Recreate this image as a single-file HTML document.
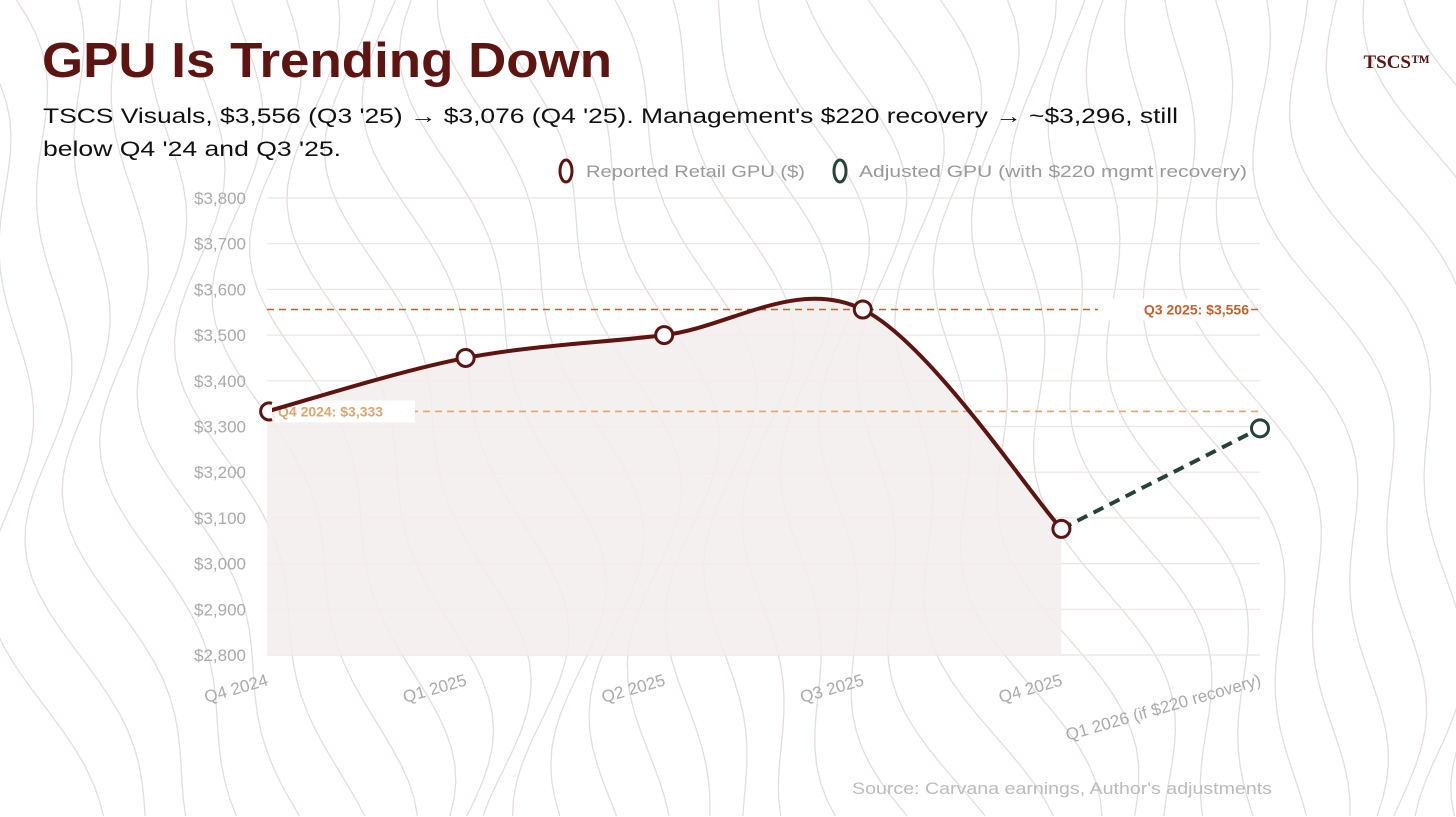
<!DOCTYPE html>
<html><head><meta charset="utf-8">
<style>
body{margin:0;width:1456px;height:817px;background:#fff;overflow:hidden;font-family:"Liberation Sans",sans-serif;}
svg{position:absolute;left:0;top:0}
</style></head>
<body>
<svg id="bg" width="1456" height="817"></svg>
<svg id="chart" width="1456" height="817">
  <text x="42" y="77" font-size="49" font-weight="bold" fill="#5e1410" textLength="570" lengthAdjust="spacingAndGlyphs">GPU Is Trending Down</text>
  <text x="1430" y="68" font-size="19" font-weight="bold" fill="#5e1410" text-anchor="end" font-family="Liberation Serif,serif">TSCS™</text>
  <text x="43" y="123" font-size="21" fill="#111" textLength="1135" lengthAdjust="spacingAndGlyphs">TSCS Visuals, $3,556 (Q3 '25) → $3,076 (Q4 '25). Management's $220 recovery → ~$3,296, still</text>
  <text x="43" y="156" font-size="21" fill="#111" textLength="298" lengthAdjust="spacingAndGlyphs">below Q4 '24 and Q3 '25.</text>
  <g>
    <ellipse cx="566" cy="171" rx="6" ry="11" fill="#fff" stroke="#5e1410" stroke-width="3"/>
    <text x="586" y="177" font-size="17" fill="#999" textLength="219" lengthAdjust="spacingAndGlyphs">Reported Retail GPU ($)</text>
    <ellipse cx="840" cy="171" rx="6" ry="11" fill="#fff" stroke="#24443a" stroke-width="3"/>
    <text x="859" y="177" font-size="17" fill="#999" textLength="388" lengthAdjust="spacingAndGlyphs">Adjusted GPU (with $220 mgmt recovery)</text>
  </g>
  <g id="grid"></g><g id="area"></g><g id="refs"></g><g id="lines"></g><g id="pts"></g><g id="xl"></g>
  <text x="1272" y="794" font-size="17" fill="#bbb" text-anchor="end" textLength="420" lengthAdjust="spacingAndGlyphs">Source: Carvana earnings, Author's adjustments</text>
</svg>
<script>
const categories=["Q4 2024","Q1 2025","Q2 2025","Q3 2025","Q4 2025","Q1 2026 (if $220 recovery)"];
const reported=[3333,3450,3500,3556,3076];
const adjusted=[3076,3296];
const yTicks=[2800,2900,3000,3100,3200,3300,3400,3500,3600,3700,3800];
const refValues=[3556,3333];
const refLabels=["Q3 2025: $3,556","Q4 2024: $3,333"];

const NS="http://www.w3.org/2000/svg";
function mk(t,a,p){const e=document.createElementNS(NS,t);for(const k in a)e.setAttribute(k,a[k]);p.appendChild(e);return e;}
const x0=267,x1=1260,yMin=2800,yMax=3800,yT=198,yB=655;
const X=i=>x0+i*(x1-x0)/(categories.length-1);
const Y=v=>yB-(v-yMin)/(yMax-yMin)*(yB-yT);

const bg=document.getElementById('bg');
for(let k=0;k<34;k++){
  const bx=-60+k*46;let d="";
  for(let y=0;y<=817;y+=17){
    const xx=bx+38*Math.sin(y/130+k*0.35)+22*Math.sin(y/55+k*0.9)+0.18*y;
    d+=(y?"L":"M")+xx.toFixed(1)+","+y;
  }
  const p=mk('path',{d:d,fill:"none",stroke:"#e6dcdc","stroke-width":1.3},bg);
  
  
}

const grid=document.getElementById('grid');
yTicks.forEach(v=>{
  const l=mk('line',{x1:x0,x2:x1,y1:Y(v),y2:Y(v),stroke:"#eee2e2","stroke-width":1.2},grid);
  
  
  const t=mk('text',{x:246,y:Y(v)+6,"font-size":17,fill:"#aaa","text-anchor":"end"},grid);
  t.textContent="$"+v.toLocaleString('en-US');
  
  
});

function cr(pts){
  let d="M"+pts[0][0]+","+pts[0][1];
  for(let i=0;i<pts.length-1;i++){
    const p0=pts[i-1]||pts[i],p1=pts[i],p2=pts[i+1],p3=pts[i+2]||p2;
    const c1=[p1[0]+(p2[0]-p0[0])/6,p1[1]+(p2[1]-p0[1])/6];
    const c2=[p2[0]-(p3[0]-p1[0])/6,p2[1]-(p3[1]-p1[1])/6];
    d+=`C${c1[0]},${c1[1]} ${c2[0]},${c2[1]} ${p2[0]},${p2[1]}`;
  }
  return d;
}
const rp=reported.map((v,i)=>[X(i),Y(v)]);
const cd=cr(rp);
const area=mk('path',{d:cd+`L${X(reported.length-1)},${yB}L${x0},${yB}Z`,fill:"#f3eded",opacity:0.85},document.getElementById('area'));



const refs=document.getElementById('refs');
const refColors=["#c8602c","#e0a56a"];
refValues.forEach((v,i)=>{
  const l=mk('line',{x1:x0,x2:x1,y1:Y(v),y2:Y(v),stroke:refColors[i],"stroke-width":1.6,"stroke-dasharray":"7,5"},refs);
  
  
  const tx=i==0?1249:278;
  const r=mk('rect',i==0?{x:1098,y:Y(v)-11,width:152,height:22,fill:"#fff"}:{x:275,y:Y(v)-11,width:140,height:22,fill:"#fff"},refs);
  
  
  const t=mk('text',{x:tx,y:Y(v)+5,"font-size":14,"font-weight":"bold",fill:refColors[i],"text-anchor":i==0?"end":"start"},refs);
  t.textContent=refLabels[i];
  
  
});

const lines=document.getElementById('lines');
const ln=mk('path',{d:cd,fill:"none",stroke:"#5e1410","stroke-width":4},lines);


const off=reported.length-1;
const al=mk('line',{x1:X(off),y1:Y(adjusted[0]),x2:X(off+1),y2:Y(adjusted[1]),stroke:"#24443a","stroke-width":4,"stroke-dasharray":"11,7"},lines);



const pts=document.getElementById('pts');
reported.forEach((v,i)=>{
  if(i==0)return;
  const c=mk('circle',{cx:X(i),cy:Y(v),r:8.5,fill:"#fff",stroke:"#5e1410","stroke-width":3},pts);
  
  
});
const c0=mk('path',{d:`M${X(0)+5},${Y(reported[0])-8}A8.5,8.5 0 1 0 ${X(0)+5},${Y(reported[0])+8}`,fill:"#fff",stroke:"#5e1410","stroke-width":3},pts);


const ap=mk('circle',{cx:X(off+1),cy:Y(adjusted[1]),r:8.5,fill:"#fff",stroke:"#24443a","stroke-width":3},pts);



const xl=document.getElementById('xl');
categories.forEach((c,i)=>{
  const tx=X(i)+2;
  const t=mk('text',{x:tx,y:685,"font-size":17,fill:"#aaa","text-anchor":"end",transform:`rotate(-16 ${tx} 685)`},xl);
  t.textContent=c;
  
  
});
</script>
</body></html>
